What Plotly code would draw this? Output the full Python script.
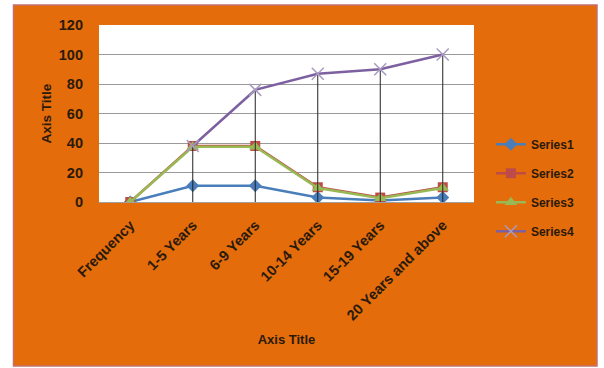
import plotly.graph_objects as go

categories = ["Frequency", "1-5 Years", "6-9 Years", "10-14 Years", "15-19 Years", "20 Years and above"]
series1 = [0, 11, 11, 3, 1, 3]
series2 = [0, 38, 38, 10, 3, 10]
series3 = [0, 37.5, 37.5, 9.5, 2.5, 9.5]
series4 = [None, 38, 76, 87, 90, 100]
y_ticks = [0, 20, 40, 60, 80, 100, 120]

TXT = "#2a1a0c"
ORANGE = "#E46C0A"
FONT = "Liberation Sans"

fig = go.Figure()

fig.add_trace(go.Scatter(
    x=categories, y=series1, name="Series1", mode="lines+markers",
    line=dict(color="#4A7EBB", width=2.5),
    marker=dict(symbol="diamond", size=10, color="#4A7EBB"),
    legendgroup="s1"))
fig.add_trace(go.Scatter(
    x=categories, y=series2, name="Series2", mode="lines+markers",
    line=dict(color="#BE4B48", width=2.5),
    marker=dict(symbol="square", size=10, color="#BE4B48"),
    legendgroup="s2"))
fig.add_trace(go.Scatter(
    x=categories, y=series3, name="Series3", mode="lines+markers",
    line=dict(color="#98B954", width=2.5),
    marker=dict(symbol="triangle-up", size=11, color="#98B954"),
    legendgroup="s3"))
# drop lines from Series4 down to the axis
fig.add_trace(go.Scatter(
    x=categories, y=series4, mode="markers", showlegend=False, hoverinfo="skip",
    marker=dict(size=1, color="rgba(0,0,0,0)"),
    error_y=dict(type="data", symmetric=False, array=[0]*len(series4),
                 arrayminus=[v if v is not None else 0 for v in series4],
                 color="#222222", thickness=1, width=0)))
fig.add_trace(go.Scatter(
    x=categories, y=series4, name="Series4", mode="lines+markers",
    line=dict(color="#7D60A0", width=2.5),
    marker=dict(symbol="x-thin", size=12, color="#A99BC0",
                line=dict(color="#A99BC0", width=1.5)),
    legendgroup="s4"))

fig.update_layout(
    width=604, height=368,
    margin=dict(l=99, r=130, t=25, b=166),
    paper_bgcolor="white",
    plot_bgcolor="white",
    font=dict(family=FONT, color=TXT, size=12),
    showlegend=True,
    legend=dict(x=1.045, xanchor="left", y=0.08, yanchor="middle",
                bgcolor="rgba(0,0,0,0)", font=dict(size=12, color=TXT, weight="bold"),
                tracegroupgap=10, itemwidth=30),
    shapes=[
        dict(type="rect", xref="paper", yref="paper",
             x0=(13.5 - 99) / 375, x1=(597 - 99) / 375,
             y0=(202 - 366) / 177, y1=(202 - 5) / 177,
             fillcolor=ORANGE, line=dict(color="#C47070", width=1.5), layer="below"),
        dict(type="rect", xref="paper", yref="paper", x0=0, x1=1, y0=0, y1=1,
             fillcolor="white", line=dict(width=0), layer="below"),
    ],
)

fig.update_xaxes(
    type="category", categoryorder="array", categoryarray=categories,
    range=[-0.5, 5.5], tickangle=-45, showgrid=False,
    showline=True, linecolor="#A0A0A0", linewidth=1,
    ticks="", ticklabelstandoff=8,
    tickfont=dict(family=FONT, size=14.5, color=TXT, weight="bold"),
    title=dict(text="<b>Axis Title</b>", font=dict(size=13, color=TXT), standoff=12),
)
fig.update_yaxes(
    range=[0, 120], tickvals=y_ticks, showgrid=True, gridcolor="#9A9A9A", gridwidth=1,
    zeroline=False, showline=False, ticks="", ticklabelstandoff=15,
    tickfont=dict(family=FONT, size=14.5, color=TXT, weight="bold"),
    title=dict(text="<b>Axis Title</b>", font=dict(size=13.5, color=TXT), standoff=4),
)

fig.write_html("out.html")
